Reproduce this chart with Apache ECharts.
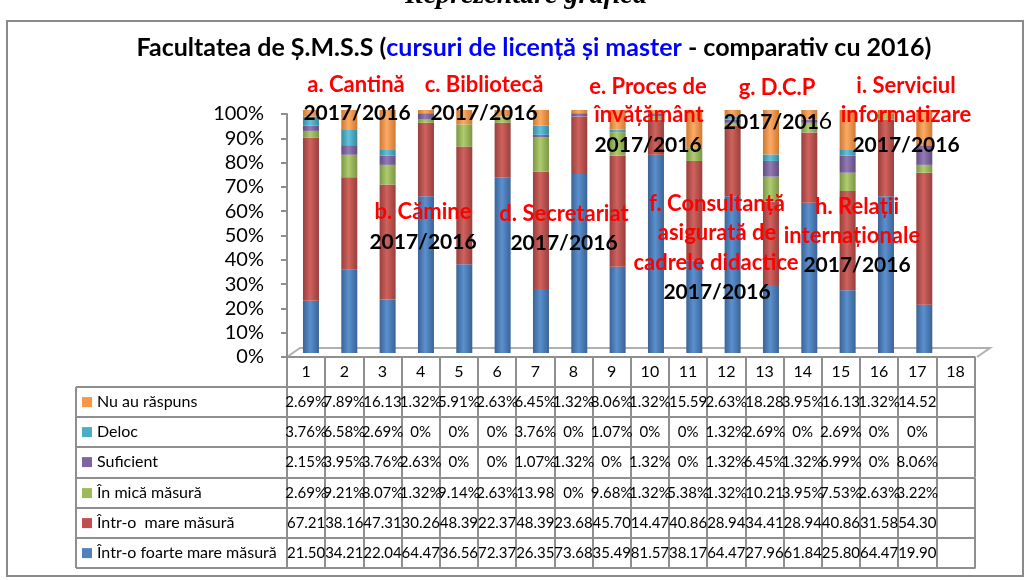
<!DOCTYPE html>
<html>
<head>
<meta charset="utf-8">
<script src="https://cdn.jsdelivr.net/npm/echarts@6/dist/echarts.min.js"></script>
<style>
  html, body { margin: 0; padding: 0; background: #fff; }
  #chart { width: 1030px; height: 580px; }
</style>
</head>
<body>
<div id="chart"></div>
<script>
// categorii (coloanele tabelului)
const categories = ['1', '2', '3', '4', '5', '6', '7', '8', '9', '10', '11', '12', '13', '14', '15', '16', '17', '18'];

// valori in % (citite din tabel)
const foarteMare = [21.50, 34.21, 22.04, 64.47, 36.56, 72.37, 26.35, 73.68, 35.49, 81.57, 38.17, 64.47, 27.96, 61.84, 25.80, 64.47, 19.90];
const mare = [67.21, 38.16, 47.31, 30.26, 48.39, 22.37, 48.39, 23.68, 45.70, 14.47, 40.86, 28.94, 34.41, 28.94, 40.86, 31.58, 54.30];
const mica = [2.69, 9.21, 8.07, 1.32, 9.14, 2.63, 13.98, 0, 9.68, 1.32, 5.38, 1.32, 10.21, 3.95, 7.53, 2.63, 3.22];
const suficient = [2.15, 3.95, 3.76, 2.63, 0, 0, 1.07, 1.32, 0, 1.32, 0, 1.32, 6.45, 1.32, 6.99, 0, 8.06];
const deloc = [3.76, 6.58, 2.69, 0, 0, 0, 3.76, 0, 1.07, 0, 0, 1.32, 2.69, 0, 2.69, 0, 0];
const nuRaspuns = [2.69, 7.89, 16.13, 1.32, 5.91, 2.63, 6.45, 1.32, 8.06, 1.32, 15.59, 2.63, 18.28, 3.95, 16.13, 1.32, 14.52];

const yTicks = [0, 10, 20, 30, 40, 50, 60, 70, 80, 90, 100];

// serii de jos in sus (stiva)
const seriesDefs = [
  { name: 'Într-o foarte mare măsură', data: foarteMare, c: ['#3a6395', '#5b90cf', '#4f81bd'] },
  { name: 'Într-o  mare măsură', data: mare, c: ['#983f3c', '#d0625e', '#c0504d'] },
  { name: 'În mică măsură', data: mica, c: ['#7a9645', '#afcc6e', '#9bbb59'] },
  { name: 'Suficient', data: suficient, c: ['#614c7f', '#937ab5', '#8064a2'] },
  { name: 'Deloc', data: deloc, c: ['#37889e', '#62c2dc', '#4bacc6'] },
  { name: 'Nu au răspuns', data: nuRaspuns, c: ['#d0782f', '#fbab66', '#f79646'] }
];
// randurile tabelului (de sus in jos)
const tableRows = seriesDefs.slice().reverse();

const chart = echarts.init(document.getElementById('chart'));

const lineCol = '#8f8f8f';
const axisTop = 357;          // linia de 0% / marginea tabelului
const colLeft = 287, colW = 38.2;
const tableLeft = 76;
const headerH = 30, rowH = 30.2;
const rowOffsets = tableRows.map((r, i) => Math.round(headerH + i * rowH));
const bottomOffset = Math.round(headerH + tableRows.length * rowH);

// textul din celula, taiat la latimea coloanei (ca in Excel)
function fmt(v) {
  if (v === undefined) return '';
  return (v === 0 ? '0%' : v.toFixed(2) + '%').slice(0, 5);
}

// axele tabelului: antet + cate una pe rand
const xAxes = [
  { type: 'category', data: categories, show: false, gridIndex: 0 },
  {
    type: 'category', data: categories, gridIndex: 1, position: 'bottom', offset: 0,
    axisLine: { show: true, lineStyle: { color: lineCol, width: 2 } },
    axisTick: { show: true, length: headerH, interval: 0, lineStyle: { color: lineCol, width: 2 } },
    axisLabel: { interval: 0, margin: 7, fontFamily: 'Lato', fontSize: 16, color: '#000', lineHeight: 16 }
  }
];
tableRows.forEach((r, i) => {
  xAxes.push({
    type: 'category', data: categories, gridIndex: 1, position: 'bottom', offset: rowOffsets[i],
    axisLine: { show: true, lineStyle: { color: lineCol, width: 2 } },
    axisTick: { show: true, length: rowH, interval: 0, lineStyle: { color: lineCol, width: 2 } },
    axisLabel: {
      interval: 0, margin: 7, fontFamily: 'Lato', fontSize: 15, color: '#000', lineHeight: 16,
      hideOverlap: false,
      formatter: (val, idx) => fmt(r.data[idx])
    }
  });
});
xAxes.push({
  type: 'category', data: categories, gridIndex: 1, position: 'bottom', offset: bottomOffset,
  axisLine: { show: true, lineStyle: { color: lineCol, width: 2 } },
  axisTick: { show: false }, axisLabel: { show: false }
});

const graphic = [
  // chenarul graficului
  { type: 'rect', z: 0, shape: { x: 7, y: 21, width: 1016, height: 555 }, style: { fill: 'none', stroke: '#8a8a8a', lineWidth: 2 } },
  // podeaua 3D
  { type: 'polyline', z: 0, shape: { points: [[colLeft, axisTop], [colLeft + 13, axisTop - 9], [990, axisTop - 9], [977, axisTop]] }, style: { fill: 'none', stroke: '#b0b0b0', lineWidth: 2 } },
  // titlul taiat de sus
  { type: 'text', x: 526, y: 10, style: { text: 'Reprezentare grafică', font: 'italic bold 28px "Liberation Serif"', fill: '#000', textAlign: 'center', textVerticalAlign: 'bottom' } },
  // titlu
  {
    type: 'text', x: 534, y: 48,
    style: {
      text: '{k|Facultatea de Ș.M.S.S (}{b|cursuri de licență și master}{k| - comparativ cu 2016)}',
      textAlign: 'center', textVerticalAlign: 'middle',
      rich: {
        k: { font: 'bold 25px Lato', fill: '#000' },
        b: { font: 'bold 25px Lato', fill: '#0000ff' }
      }
    }
  },
  // coloana legendei din tabel
  { type: 'line', shape: { x1: tableLeft, y1: axisTop + headerH, x2: tableLeft, y2: axisTop + bottomOffset }, style: { stroke: lineCol, lineWidth: 2 } }
];
[headerH].concat(rowOffsets.slice(1), [bottomOffset]).forEach(off => {
  graphic.push({ type: 'line', shape: { x1: tableLeft, y1: axisTop + off, x2: colLeft, y2: axisTop + off }, style: { stroke: lineCol, lineWidth: 2 } });
});
tableRows.forEach((r, i) => {
  const cy = axisTop + rowOffsets[i] + rowH / 2;
  graphic.push({ type: 'rect', shape: { x: 82, y: cy - 5, width: 10, height: 10 }, style: { fill: r.c[2] } });
  graphic.push({ type: 'text', x: 97, y: cy, style: { text: r.name, font: '16px Lato', fill: '#000', textVerticalAlign: 'middle' } });
});

// etichetele rosii / negre plasate peste grafic
const red = (t, x, y) => ({ type: 'text', z: 100, x, y, style: { text: t, font: 'bold 22px Lato', fill: '#ff0000', textAlign: 'center', textVerticalAlign: 'middle' } });
const blk = (x, y) => ({ type: 'text', z: 100, x, y, style: { text: '2017/2016', font: 'bold 21px Lato', fill: '#000', textAlign: 'center', textVerticalAlign: 'middle' } });
graphic.push(
  red('a. Cantină', 356, 85), blk(357, 113),
  red('c. Bibliotecă', 484, 85), blk(484, 113),
  red('b. Cămine', 423, 212), blk(423, 242),
  red('d. Secretariat', 564, 214), blk(564, 243),
  red('e. Proces de', 648, 87), red('învățământ', 649, 115), blk(648, 145),
  red('f. Consultanță', 717, 204), red('asigurată de', 717, 233), red('cadrele didactice', 716, 263), blk(717, 292),
  red('g. D.C.P', 777, 88),
  {
    type: 'text', z: 100, x: 778, y: 122,
    style: {
      text: '{b|2017/201}{r|6}', textAlign: 'center', textVerticalAlign: 'middle',
      rich: { b: { font: 'bold 21px Lato', fill: '#000' }, r: { font: '23px Lato', fill: '#000' } }
    }
  },
  red('h. Relații', 857, 207), red('internaționale', 852, 236), blk(857, 265),
  red('i. Serviciul', 906, 86), red('informatizare', 906, 115), blk(906, 145)
);

const option = {
  backgroundColor: '#fff',
  animation: false,
  grid: [
    // barele (usor decalate, ca in perspectiva 3D)
    { left: 291.8, top: 110, width: 690, height: 243 },
    // axa Y vizibila + tabelul
    { left: colLeft, top: 114, width: colW * 18, height: axisTop - 114 }
  ],
  xAxis: xAxes,
  yAxis: [
    { type: 'value', gridIndex: 0, min: 0, max: 100, show: false },
    {
      type: 'value', gridIndex: 1, min: 0, max: 100, interval: 10,
      axisLine: { show: true, lineStyle: { color: lineCol, width: 2 } },
      axisTick: { show: true, length: 6, lineStyle: { color: lineCol, width: 2 } },
      splitLine: { show: false },
      axisLabel: {
        margin: 23, fontFamily: 'Lato', fontSize: 20, color: '#000',
        formatter: v => (yTicks.indexOf(v) >= 0 ? v + '%' : '')
      }
    }
  ],
  series: seriesDefs.map(s => ({
    name: s.name,
    type: 'bar',
    stack: 'total',
    xAxisIndex: 0,
    yAxisIndex: 0,
    barWidth: 16,
    data: s.data,
    itemStyle: {
      color: new echarts.graphic.LinearGradient(0, 0, 1, 0, [
        { offset: 0, color: s.c[0] },
        { offset: 0.45, color: s.c[1] },
        { offset: 1, color: s.c[0] }
      ])
    }
  })),
  graphic: graphic
};

chart.setOption(option);
</script>
</body>
</html>
